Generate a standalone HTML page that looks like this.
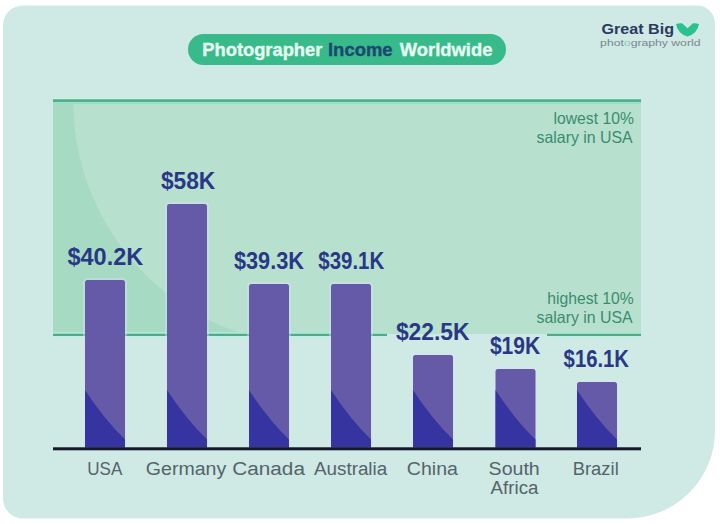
<!DOCTYPE html>
<html><head><meta charset="utf-8">
<style>
html,body{margin:0;padding:0;background:#fff;}
body{width:720px;height:524px;position:relative;overflow:hidden;font-family:"Liberation Sans",sans-serif;}
#card{position:absolute;left:3px;top:5px;width:712px;height:513px;background:#cfe9e5;border-radius:20px 18px 88px 20px;}
</style></head>
<body>
<svg width="720" height="524" style="position:absolute;left:0;top:0" font-family="Liberation Sans, sans-serif">
<path d="M23,5.5 H697 A18,18 0 0 1 715,23.5 V430.5 A88,88 0 0 1 627,518.5 H23 A20,20 0 0 1 3,498.5 V25.5 A20,20 0 0 1 23,5.5 Z" fill="#cfe9e5"/>
<rect x="53" y="100" width="588" height="234" fill="#b8e0cf"/>
<path d="M53,100 H73.3 A243.5,243.5 0 0 0 243.5,334 H53 Z" fill="#a6dac3"/>
<rect x="53" y="97" width="588" height="2.3" fill="#c6f1e2"/>
<rect x="53" y="101.9" width="588" height="2.2" fill="#98e3c6"/>
<rect x="53" y="99.3" width="588" height="2.6" fill="#50aa8b"/>
<rect x="53" y="331.8" width="334" height="2" fill="#afe8d4"/>
<rect x="53" y="336" width="334" height="2" fill="#c2efe3"/>
<rect x="53" y="333.8" width="334" height="2.2" fill="#50aa8b"/>
<rect x="547" y="331.8" width="94" height="2" fill="#afe8d4"/>
<rect x="547" y="336" width="94" height="2" fill="#c2efe3"/>
<rect x="547" y="333.8" width="94" height="2.2" fill="#50aa8b"/>
<path d="M85,447.6 V282.5 Q85,280 87.5,280 H122.5 Q125,280 125,282.5 V447.6 Z" fill="none" stroke="#d8e4f8" stroke-opacity="0.4" stroke-width="4"/><path d="M85,447.6 V282.5 Q85,280 87.5,280 H122.5 Q125,280 125,282.5 V447.6 Z" fill="#655aa8"/><path d="M85,390.0 Q104,419.1 125,439.6 V447.6 H85 Z" fill="#3534a0"/>
<path d="M167,447.6 V206.5 Q167,204 169.5,204 H204.5 Q207,204 207,206.5 V447.6 Z" fill="none" stroke="#d8e4f8" stroke-opacity="0.4" stroke-width="4"/><path d="M167,447.6 V206.5 Q167,204 169.5,204 H204.5 Q207,204 207,206.5 V447.6 Z" fill="#655aa8"/><path d="M167,390.0 Q186,419.1 207,439.6 V447.6 H167 Z" fill="#3534a0"/>
<path d="M249,447.6 V286.5 Q249,284 251.5,284 H286.5 Q289,284 289,286.5 V447.6 Z" fill="none" stroke="#d8e4f8" stroke-opacity="0.4" stroke-width="4"/><path d="M249,447.6 V286.5 Q249,284 251.5,284 H286.5 Q289,284 289,286.5 V447.6 Z" fill="#655aa8"/><path d="M249,390.0 Q268,419.1 289,439.6 V447.6 H249 Z" fill="#3534a0"/>
<path d="M331,447.6 V286.5 Q331,284 333.5,284 H368.5 Q371,284 371,286.5 V447.6 Z" fill="none" stroke="#d8e4f8" stroke-opacity="0.4" stroke-width="4"/><path d="M331,447.6 V286.5 Q331,284 333.5,284 H368.5 Q371,284 371,286.5 V447.6 Z" fill="#655aa8"/><path d="M331,390.0 Q350,419.1 371,439.6 V447.6 H331 Z" fill="#3534a0"/>
<path d="M413,447.6 V357.5 Q413,355 415.5,355 H450.5 Q453,355 453,357.5 V447.6 Z" fill="none" stroke="#d8e4f8" stroke-opacity="0.4" stroke-width="4"/><path d="M413,447.6 V357.5 Q413,355 415.5,355 H450.5 Q453,355 453,357.5 V447.6 Z" fill="#655aa8"/><path d="M413,390.0 Q432,419.1 453,439.6 V447.6 H413 Z" fill="#3534a0"/>
<path d="M495.5,447.6 V371.5 Q495.5,369 498.0,369 H533.0 Q535.5,369 535.5,371.5 V447.6 Z" fill="none" stroke="#d8e4f8" stroke-opacity="0.4" stroke-width="4"/><path d="M495.5,447.6 V371.5 Q495.5,369 498.0,369 H533.0 Q535.5,369 535.5,371.5 V447.6 Z" fill="#655aa8"/><path d="M495.5,390.0 Q514.5,419.1 535.5,439.6 V447.6 H495.5 Z" fill="#3534a0"/>
<path d="M577,447.6 V384.5 Q577,382 579.5,382 H614.5 Q617,382 617,384.5 V447.6 Z" fill="none" stroke="#d8e4f8" stroke-opacity="0.4" stroke-width="4"/><path d="M577,447.6 V384.5 Q577,382 579.5,382 H614.5 Q617,382 617,384.5 V447.6 Z" fill="#655aa8"/><path d="M577,390.0 Q596,419.1 617,439.6 V447.6 H577 Z" fill="#3534a0"/>
<rect x="53" y="447.3" width="588" height="3.0" fill="#141828"/>
<rect x="188" y="34" width="318" height="31" rx="15.5" fill="#38ba8b"/>
<path d="M676,24 Q679,23 682,23.3 L687.5,28.3 L693,23.3 Q696,23 699,24 Q697.5,33.5 687.5,36.6 Q677.5,33.5 676,24 Z" fill="#2cc28e"/>
<text id="t1" x="202.35" y="56.20" font-size="18" font-weight="bold" fill="#e9fcf2" stroke="#e9fcf2" stroke-width="0.35" textLength="119.96" lengthAdjust="spacingAndGlyphs">Photographer</text>
<text id="t2" x="327.98" y="56.20" font-size="18" font-weight="bold" fill="#1d4872" stroke="#1d4872" stroke-width="0.35" textLength="64.69" lengthAdjust="spacingAndGlyphs">Income</text>
<text id="t3" x="399.86" y="56.20" font-size="18" font-weight="bold" fill="#e9fcf2" stroke="#e9fcf2" stroke-width="0.35" textLength="92.49" lengthAdjust="spacingAndGlyphs">Worldwide</text>
<text id="v1" x="67.44" y="265.00" font-size="24" font-weight="bold" fill="#283886" textLength="75.78" lengthAdjust="spacingAndGlyphs">$40.2K</text>
<text id="v2" x="160.89" y="189.20" font-size="24" font-weight="bold" fill="#283886" textLength="54.42" lengthAdjust="spacingAndGlyphs">$58K</text>
<text id="v3" x="233.95" y="269.30" font-size="24" font-weight="bold" fill="#283886" textLength="69.97" lengthAdjust="spacingAndGlyphs">$39.3K</text>
<text id="v4" x="318.29" y="269.30" font-size="24" font-weight="bold" fill="#283886" textLength="65.94" lengthAdjust="spacingAndGlyphs">$39.1K</text>
<text id="v5" x="395.92" y="340.00" font-size="24" font-weight="bold" fill="#283886" textLength="73.66" lengthAdjust="spacingAndGlyphs">$22.5K</text>
<text id="v6" x="489.89" y="354.20" font-size="24" font-weight="bold" fill="#283886" textLength="50.35" lengthAdjust="spacingAndGlyphs">$19K</text>
<text id="v7" x="563.62" y="366.70" font-size="24" font-weight="bold" fill="#283886" textLength="65.31" lengthAdjust="spacingAndGlyphs">$16.1K</text>
<text id="c1" x="87.23" y="475.00" font-size="18" font-weight="normal" fill="#55636a" textLength="35.08" lengthAdjust="spacingAndGlyphs">USA</text>
<text id="c2" x="145.85" y="475.00" font-size="18" font-weight="normal" fill="#55636a" textLength="80.36" lengthAdjust="spacingAndGlyphs">Germany</text>
<text id="c3" x="232.29" y="475.00" font-size="18" font-weight="normal" fill="#55636a" textLength="72.64" lengthAdjust="spacingAndGlyphs">Canada</text>
<text id="c4" x="313.98" y="475.00" font-size="18" font-weight="normal" fill="#55636a" textLength="73.22" lengthAdjust="spacingAndGlyphs">Australia</text>
<text id="c5" x="406.89" y="475.00" font-size="18" font-weight="normal" fill="#55636a" textLength="51.04" lengthAdjust="spacingAndGlyphs">China</text>
<text id="c6" x="488.60" y="475.00" font-size="18" font-weight="normal" fill="#55636a" textLength="51.16" lengthAdjust="spacingAndGlyphs">South</text>
<text id="c6b" x="490.64" y="493.75" font-size="18" font-weight="normal" fill="#55636a" textLength="47.82" lengthAdjust="spacingAndGlyphs">Africa</text>
<text id="c7" x="572.73" y="475.00" font-size="18" font-weight="normal" fill="#55636a" textLength="46.01" lengthAdjust="spacingAndGlyphs">Brazil</text>
<text id="n1" x="553.57" y="124.40" font-size="16.5" font-weight="normal" fill="#388d6e" textLength="80.30" lengthAdjust="spacingAndGlyphs">lowest 10%</text>
<text id="n1b" x="536.55" y="142.90" font-size="16.5" font-weight="normal" fill="#388d6e" textLength="96.15" lengthAdjust="spacingAndGlyphs">salary in USA</text>
<text id="n2" x="547.23" y="304.30" font-size="16.5" font-weight="normal" fill="#388d6e" textLength="86.43" lengthAdjust="spacingAndGlyphs">highest 10%</text>
<text id="n2b" x="536.55" y="322.90" font-size="16.5" font-weight="normal" fill="#388d6e" textLength="96.15" lengthAdjust="spacingAndGlyphs">salary in USA</text>
<text id="g1" x="601.45" y="34.30" font-size="14.5" font-weight="bold" fill="#2b3a5e" textLength="72.54" lengthAdjust="spacingAndGlyphs">Great Big</text>
<text id="g2" x="600.13" y="46.00" font-size="9.5" font-weight="normal" fill="#7b878c" textLength="100.33" lengthAdjust="spacingAndGlyphs">phot<tspan fill="#7fcfb0">o</tspan>graphy world</text>
</svg>
</body></html>
